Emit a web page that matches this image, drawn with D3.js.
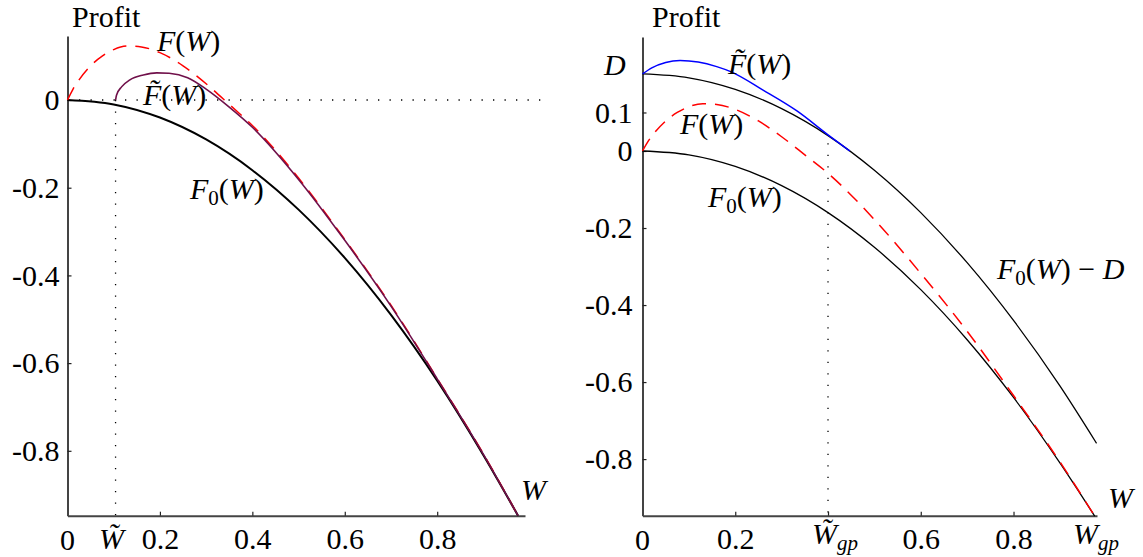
<html><body style="margin:0">
<svg width="1143" height="557" id="s"></svg>
<script src="https://d3js.org/d3.v7.min.js"></script>
<script>
// values
const wGrid = [0, 0.1, 0.2, 0.3, 0.4, 0.5, 0.6, 0.7, 0.8, 0.9, 0.975];
const f0Vals = [0, -0.01, -0.04, -0.09, -0.16, -0.25, -0.36, -0.49, -0.64, -0.81, -0.948];

const wF = [0, 0.012, 0.025, 0.05, 0.075, 0.1, 0.13, 0.16, 0.2, 0.25, 0.3, 0.35, 0.4, 0.5, 0.6, 0.7, 0.8, 0.9, 0.975];
const fVals = [0, 0.025, 0.046, 0.078, 0.1, 0.115, 0.123, 0.121, 0.108, 0.078, 0.037, -0.01, -0.058, -0.178, -0.318, -0.468, -0.635, -0.807, -0.948];

// left: F tilde (purple), starts at W tilde
const wFt = [0.104, 0.106, 0.117, 0.135, 0.164, 0.193, 0.22, 0.26, 0.3, 0.35, 0.4, 0.5, 0.6, 0.7, 0.8, 0.9, 0.975];
const ftVals = [0, 0.011, 0.03, 0.046, 0.057, 0.062, 0.061, 0.051, 0.025, -0.016, -0.062, -0.181, -0.32, -0.47, -0.636, -0.808, -0.948];

// right: F0(W) shifted by D, and F tilde (blue)
const wFD = [0, 0.1, 0.2, 0.3, 0.4, 0.5, 0.6, 0.7, 0.8, 0.9, 0.979];
const fdVals = [0.2, 0.19, 0.16, 0.11, 0.04, -0.05, -0.16, -0.29, -0.44, -0.61, -0.759];
const wBlue = [0, 0.02, 0.05, 0.081, 0.12, 0.16, 0.19, 0.26, 0.333, 0.4, 0.447];
const blueVals = [0.2, 0.216, 0.23, 0.235, 0.231, 0.219, 0.206, 0.158, 0.104, 0.042, 0.0];

const wTilde = 0.104;
const wTildeGp = 0.40;
const D = 0.2;

const leftYTicks = [0, -0.2, -0.4, -0.6, -0.8];
const leftXTicks = [0.2, 0.4, 0.6, 0.8];
const rightYTicks = [0.1, 0, -0.2, -0.4, -0.6, -0.8];
const rightXTicks = [0.2, 0.6, 0.8];

const zip = (ws, vs) => ws.map((w, i) => ({ w: w, v: vs[i] }));

const SERIF = '"Liberation Serif"';
const FONT = 30;

const svg = d3.select("#s");

function label(g, x, y, str) {
  return g.append("text").attr("x", x).attr("y", y).attr("font-size", FONT)
    .style("font-family", SERIF).text(str);
}

function axes(g, x, y, xTicks, yTicks, pad) {
  const ax = g.append("g")
    .attr("transform", `translate(0,${y.range()[0]})`)
    .call(d3.axisBottom(x).tickValues(xTicks).tickSize(-4).tickSizeOuter(0).tickPadding(12).tickFormat(d => String(d)));
  const ay = g.append("g")
    .attr("transform", `translate(${x.range()[0]},0)`)
    .call(d3.axisLeft(y).tickValues(yTicks).tickSize(-4).tickSizeOuter(0).tickPadding(pad).tickFormat(d => String(d)));
  [ax, ay].forEach(a => {
    a.attr("font-size", null).attr("font-family", null);
    a.select(".domain").attr("stroke", "#444").attr("stroke-width", 2);
    a.selectAll(".tick line").attr("stroke", "#222").attr("stroke-width", 1.2);
    a.selectAll(".tick text").attr("fill", "#000")
      .attr("font-size", FONT).style("font-family", SERIF);
  });
}

function mathLabel(g, x, y, parts) {
  // parts: [text, italic?, sub?]
  const t = g.append("text").attr("x", x).attr("y", y)
    .attr("font-size", FONT).style("font-family", SERIF);
  let shifted = false;
  parts.forEach(p => {
    const s = t.append("tspan").text(p[0]);
    if (p[1]) s.style("font-style", "italic");
    if (p[2]) {
      s.attr("font-size", FONT * 0.7);
      if (!shifted) { s.attr("dy", 6); shifted = true; }
    } else if (shifted) {
      s.attr("dy", -6); shifted = false;
    }
  });
  return t;
}

function line(x, y) {
  return d3.line().x(d => x(d.w)).y(d => y(d.v)).curve(d3.curveMonotoneX);
}

// ---------- left panel ----------
const xL = d3.scaleLinear().domain([0, 0.99]).range([67.5, 525]);
const yL = d3.scaleLinear().domain([-0.948, 0.146]).range([515.7, 36]);
const gL = svg.append("g");

gL.append("line")
  .attr("x1", xL(0)).attr("x2", 550).attr("y1", yL(0)).attr("y2", yL(0))
  .attr("stroke", "#000").attr("stroke-width", 1.3).attr("stroke-dasharray", "1.3,10.2");
gL.append("line")
  .attr("x1", xL(wTilde)).attr("x2", xL(wTilde)).attr("y1", yL(0)).attr("y2", yL(-0.948))
  .attr("stroke", "#000").attr("stroke-width", 1.3).attr("stroke-dasharray", "1.3,10.2");

axes(gL, xL, yL, leftXTicks, leftYTicks, 8);

const lL = line(xL, yL);
gL.append("path").attr("d", lL(zip(wGrid, f0Vals)))
  .attr("fill", "none").attr("stroke", "#000").attr("stroke-width", 2);
gL.append("path").attr("d", lL(zip(wF, fVals)))
  .attr("fill", "none").attr("stroke", "#ff0000").attr("stroke-width", 1.5).attr("stroke-dasharray", "14,9");
gL.append("path").attr("d", lL(zip(wFt, ftVals)))
  .attr("fill", "none").attr("stroke", "#70104a").attr("stroke-width", 1.6);

label(gL, 72, 27, "Profit");
mathLabel(gL, 157, 51, [["F", true], ["("], ["W", true], [")"]]);
mathLabel(gL, 143, 105, [["F\u0303", true], ["("], ["W", true], [")"]]);
mathLabel(gL, 190, 199, [["F", true], ["0", false, true], ["("], ["W", true], [")"]]);
mathLabel(gL, 521, 500, [["W", true]]);
label(gL, xL(0), 550, "0").attr("text-anchor", "middle");
mathLabel(gL, 99, 549, [["W\u0303", true]]);

// ---------- right panel ----------
const xR = d3.scaleLinear().domain([0, 0.98]).range([642.5, 1097]);
const yR = d3.scaleLinear().domain([-0.947, 0.296]).range([515.7, 37]);
const gR = svg.append("g");

gR.append("line")
  .attr("x1", xR(wTildeGp)).attr("x2", xR(wTildeGp)).attr("y1", yR(0.02)).attr("y2", yR(-0.947))
  .attr("stroke", "#000").attr("stroke-width", 1.3).attr("stroke-dasharray", "1.3,10.2");

axes(gR, xR, yR, rightXTicks.concat([wTildeGp]), rightYTicks, 10);
gR.selectAll(".tick text").filter(d => d === wTildeGp).remove();

const lR = line(xR, yR);
gR.append("path").attr("d", lR(zip(wGrid, f0Vals)))
  .attr("fill", "none").attr("stroke", "#000").attr("stroke-width", 1.3);
gR.append("path").attr("d", lR(zip(wFD, fdVals)))
  .attr("fill", "none").attr("stroke", "#000").attr("stroke-width", 1.3);
gR.append("path").attr("d", lR(zip(wF, fVals)))
  .attr("fill", "none").attr("stroke", "#ff0000").attr("stroke-width", 1.5).attr("stroke-dasharray", "14,9");
gR.append("path").attr("d", lR(zip(wBlue, blueVals)))
  .attr("fill", "none").attr("stroke", "#0000ff").attr("stroke-width", 1.5);

label(gR, 652, 27, "Profit");
mathLabel(gR, 604, yR(D) + 1, [["D", true]]);
mathLabel(gR, 728, 74, [["F\u0303", true], ["("], ["W", true], [")"]]);
mathLabel(gR, 680, 134, [["F", true], ["("], ["W", true], [")"]]);
mathLabel(gR, 708, 207, [["F", true], ["0", false, true], ["("], ["W", true], [")"]]);
mathLabel(gR, 997, 279, [["F", true], ["0", false, true], ["("], ["W", true], [") \u2212 "], ["D", true]]);
mathLabel(gR, 1108, 508, [["W", true]]);
label(gR, xR(0), 550, "0").attr("text-anchor", "middle");
mathLabel(gR, 812, 544, [["W\u0303", true], ["gp", true, true]]);
mathLabel(gR, 1073, 544, [["W", true], ["gp", true, true]]);
</script></body></html>
